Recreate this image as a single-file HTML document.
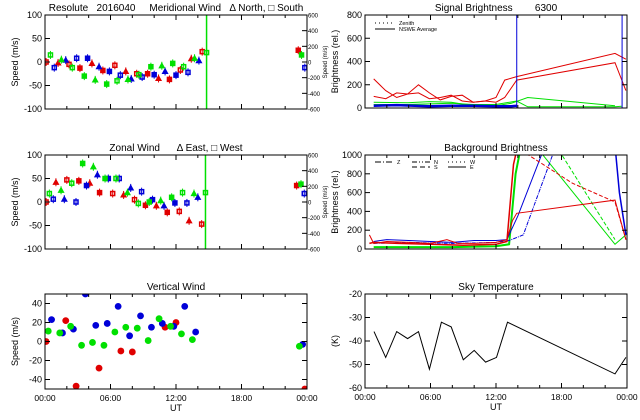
<!DOCTYPE html>
<html><head><meta charset="utf-8">
<style>
html,body{margin:0;padding:0;background:#fff;}
svg{display:block;font-family:"Liberation Sans",sans-serif;}
text{white-space:pre;}
</style></head>
<body>
<svg id="c" width="640" height="420" viewBox="0 0 640 420" xmlns="http://www.w3.org/2000/svg"></svg>
<script>
// ---- data (hours UT, values) ----
const merRedH=[0.1,1.2,2.2,3.2,4.3,5.3,6.4,7.4,8.4,9.4,10.4,11.4,12.4,13.4,14.4,23.2];
const merRedV=[0,-2,-5,-13,-3,-18,-7,-20,-25,-25,-35,-37,-17,7,22,25];
const merBlueH=[0.85,1.9,2.9,3.9,4.95,5.9,6.9,7.9,8.9,10.0,11.0,12.0,13.1,14.1,23.8];
const merBlueV=[-12,4,8,8,-10,-20,-28,-36,-32,-27,-20,-28,-22,3,-12];
const merGreenH=[0.5,1.5,2.5,3.6,4.6,5.65,6.6,7.6,8.6,9.7,10.7,11.7,12.7,13.7,14.8,23.5];
const merGreenV=[15,5,-12,-30,-38,-47,-40,-37,-27,-10,-8,-3,-10,8,20,15];
const zonRedH=[0.1,1.0,2.0,3.1,4.1,5.0,6.2,7.2,8.2,9.2,10.2,11.2,12.3,13.2,14.35,23.05];
const zonRedV=[0,42,47,45,40,20,18,15,5,-7,-8,-22,-20,-40,-47,35];
const zonBlueH=[0.76,1.77,2.84,3.8,4.8,5.8,6.8,7.85,8.85,9.85,10.9,11.9,13.0,14.0,23.75];
const zonBlueV=[6,6,0,35,58,50,50,30,22,5,-8,-2,-2,10,18];
const zonGreenH=[0.4,1.47,2.45,3.45,4.43,5.5,6.5,7.55,8.55,9.55,10.6,11.6,12.6,13.65,14.7,23.45];
const zonGreenV=[18,25,40,82,75,50,50,20,-3,0,3,10,20,18,20,38];
const verRedH=[0.1,1.9,2.85,4.95,6.95,8.0,11.0,12.0,23.8];
const verRedV=[0,22,-47,-28,-10,-11,15,20,-50];
const verBlueH=[0.6,1.6,2.6,3.7,4.65,5.7,6.7,7.75,8.75,9.75,10.75,11.8,12.8,13.8,23.6];
const verBlueV=[23,9,13,50,17,19,37,6,27,15,19,16,37,10,-3];
const verGreenH=[0.3,1.35,2.35,3.35,4.35,5.4,6.4,7.4,8.45,9.45,10.45,11.5,12.5,13.5,23.3];
const verGreenV=[11,9,16,-4,-1,-4,10,15,14,1,24,16,8,2,-5];
const skyH=[0.82,1.9,2.9,3.9,4.9,5.9,7.0,7.9,9.0,10.0,11.05,12.05,13.05,22.9,23.9];
const skyV=[-36,-47,-36,-39,-36,-52,-32,-34,-48,-44,-49,-47,-32,-54,-47];
const sigRed1H=[0.8,1.9,2.9,3.9,4.9,5.9,6.9,7.9,8.9,9.9,11,12,12.8,13.9,22.9,23.9];
const sigRed1V=[250,150,90,120,130,80,90,110,60,50,60,90,240,270,470,420];
const sigRed2H=[0.8,1.9,2.9,3.9,4.9,5.9,6.9,7.9,8.9,9.9,11,12,12.8,13.9,22.9,23.9];
const sigRed2V=[100,80,130,120,200,130,70,100,110,50,60,50,90,240,390,150];
const sigGreen1H=[0.8,3.9,5.9,7.9,9.9,12,13.4,14.9,22.9];
const sigGreen1V=[50,45,55,50,20,20,40,90,20];
const sigGreen2H=[0.8,3.9,7.9,9.9,12,13.9,14.9,22.9,23.5];
const sigGreen2V=[30,30,40,30,30,60,10,10,15];
const sigBlueH=[0.8,2.9,5.9,7.9,9.9,12,13.4,13.9];
const sigBlueV=[20,25,15,20,20,15,15,20];
const sigMarkH=[13.9,23.55];
const bgRed1H=[0.4,0.8,2,4,6,7.5,8.5,10,12,13,13.5,13.9,22.9,23.9];
const bgRed1V=[150,60,80,70,60,100,60,60,70,100,300,380,520,100];
const bgRed2H=[0.4,0.8,3,6,9,12,13,13.6,14];
const bgRed2V=[60,70,60,50,40,50,80,900,1100];
const bgRed3H=[14.3,19,22.9,23.9];
const bgRed3V=[1050,700,500,100];
const bgBlue1H=[0.8,2,4,6,8,10,12,13,14,16.5];
const bgBlue1V=[80,100,90,80,70,90,90,100,350,1100];
const bgBlue2H=[0.8,4,8,12,13.2,14.5,17.5];
const bgBlue2V=[60,70,60,70,90,150,1100];
const bgBlue3H=[22.9,23.3,23.9];
const bgBlue3V=[1100,600,150];
const bgGreen1H=[0.8,4,8,12,13.2,13.8,14.3];
const bgGreen1V=[20,20,20,30,50,800,1100];
const bgGreen2H=[15.6,22.9,23.9];
const bgGreen2V=[1100,50,150];
const bgGreen3H=[17.5,22.9];
const bgGreen3V=[1100,100];
const timeTicks=[0,6,12,18,24];
const timeLabels=["00:00","06:00","12:00","18:00","00:00"];

const NS="http://www.w3.org/2000/svg";
const svg=document.getElementById('c');
const RED="#e00000",GREEN="#00e000",BLUE="#0000d8";
function mk(tag,attrs,name,parent){const e=document.createElementNS(NS,tag);for(const k in attrs)e.setAttribute(k,attrs[k]);


(parent||svg).appendChild(e);return e;}
function txt(x,y,s,size,name,anchor,rot){const t=mk('text',{x:x,y:y,'font-size':size,'text-anchor':anchor||'middle',fill:'#000'},name);if(rot)t.setAttribute('transform','rotate(-90 '+x+' '+y+')');t.textContent=s;return t;}

function panel(P){
  const X=h=>P.x0+h/24*(P.x1-P.x0);
  const Y=v=>P.y1-(v-P.ymin)/(P.ymax-P.ymin)*(P.y1-P.y0);
  P.X=X;P.Y=Y;
  const cid='clip'+P.id;
  const cp=mk('clipPath',{id:cid},'clip-'+P.id);
  mk('rect',{x:P.x0,y:P.y0,width:P.x1-P.x0,height:P.y1-P.y0},'clip-rect',cp);
  P.g=mk('g',{'clip-path':'url(#'+cid+')'},P.id+'-plot-area');
  mk('rect',{x:P.x0,y:P.y0,width:P.x1-P.x0,height:P.y1-P.y0,fill:'none',stroke:'#000','stroke-width':1},P.id+'-frame');
  for(let h=0;h<=24;h+=2){const big=h%6==0;const len=big?5:3;
    mk('line',{x1:X(h),x2:X(h),y1:P.y1,y2:P.y1-len,stroke:'#000'},'x-tick');
    mk('line',{x1:X(h),x2:X(h),y1:P.y0,y2:P.y0+len,stroke:'#000'},'x-tick');}
  P.yt.forEach(v=>{mk('line',{x1:P.x0,x2:P.x0+5,y1:Y(v),y2:Y(v),stroke:'#000'},'y-tick');
    if(!P.right) mk('line',{x1:P.x1,x2:P.x1-5,y1:Y(v),y2:Y(v),stroke:'#000'},'y-tick');
    txt(P.x0-3,Y(v)+3,String(v),9,P.id+'-y-tick-label','end');});
  txt((P.x0+P.x1)/2,P.y0-4,P.title,10,P.id+'-title');
  txt(P.x0-27,(P.y0+P.y1)/2,P.ylab,9,P.id+'-y-axis-title','middle',true);
  if(P.xlab){timeTicks.forEach((h,i)=>txt(X(h),P.y1+12,timeLabels[i],8.5,'x-tick-label'));
    txt((P.x0+P.x1)/2,P.y1+22,'UT',9,'x-axis-title');}
  if(P.right){const r=P.right;r.forEach(v=>{const yy=Y(v/6);
    mk('line',{x1:P.x1,x2:P.x1-5,y1:yy,y2:yy,stroke:'#000'},'right-y-tick');
    txt(P.x1+1,yy+2.5,String(v),6,'right-y-tick-label','start');});
    txt(P.x1+20,(P.y0+P.y1)/2,'Speed (m/s)',6,'right-y-axis-title','middle',true);}
  return P;
}
function pts(P,H,V,col,shape,name){H.forEach((h,i)=>{const x=P.X(h),y=P.Y(V[i]);
  if(shape=='c'){mk('circle',{cx:x,cy:y,r:3.4,fill:col},name,P.g);return;}
  mk('line',{x1:x,x2:x,y1:y-4,y2:y+4,stroke:col,'stroke-width':1},name+'-error',P.g);
  if(i%3==1) mk('path',{d:`M${x-2.5} ${y+2}L${x} ${y-2.5}L${x+2.5} ${y+2}Z`,fill:col,stroke:col,'stroke-width':1.2},name,P.g);
  else mk('rect',{x:x-2,y:y-2,width:4,height:4,fill:(i%2?col:'none'),stroke:col,'stroke-width':1.5},name,P.g);});}
function line(P,H,V,col,name,dash,w){const d=H.map((h,i)=>(i?'L':'M')+P.X(h).toFixed(1)+' '+P.Y(V[i]).toFixed(1)).join('');
  const a={d:d,fill:'none',stroke:col,'stroke-width':w||1};if(dash)a['stroke-dasharray']=dash;mk('path',a,name,P.g);}

// Meridional
const M=panel({id:'meridional',x0:45,x1:307,y0:15,y1:109,ymin:-100,ymax:100,yt:[-100,-50,0,50,100],
  title:'Resolute   2016040     Meridional Wind   \u0394 North, \u25A1 South',ylab:'Speed (m/s)',right:[600,400,200,0,-200,-400,-600]});
mk('line',{x1:M.X(14.8),x2:M.X(14.8),y1:15,y2:109,stroke:GREEN,'stroke-width':1.5},'meridional-green-error-bar',M.g);
pts(M,merRedH,merRedV,RED,'s','meridional-red-point');
pts(M,merBlueH,merBlueV,BLUE,'s','meridional-blue-point');
pts(M,merGreenH,merGreenV,GREEN,'s','meridional-green-point');

// Zonal
const Z=panel({id:'zonal',x0:45,x1:307,y0:155,y1:249,ymin:-100,ymax:100,yt:[-100,-50,0,50,100],
  title:'Zonal Wind      \u0394 East, \u25A1 West',ylab:'Speed (m/s)',right:[600,400,200,0,-200,-400,-600]});
mk('line',{x1:Z.X(14.7),x2:Z.X(14.7),y1:Z.Y(-100),y2:Z.Y(100),stroke:GREEN,'stroke-width':1.5},'zonal-green-error-bar',Z.g);
pts(Z,zonRedH,zonRedV,RED,'s','zonal-red-point');
pts(Z,zonBlueH,zonBlueV,BLUE,'s','zonal-blue-point');
pts(Z,zonGreenH,zonGreenV,GREEN,'s','zonal-green-point');

// Vertical
const V=panel({id:'vertical',x0:45,x1:307,y0:294,y1:389,ymin:-50,ymax:50,yt:[-40,-20,0,20,40],
  title:'Vertical Wind',ylab:'Speed (m/s)',xlab:true});
pts(V,verRedH,verRedV,RED,'c','vertical-red-point');
pts(V,verBlueH,verBlueV,BLUE,'c','vertical-blue-point');
pts(V,verGreenH,verGreenV,GREEN,'c','vertical-green-point');

// Signal
const S=panel({id:'signal',x0:365,x1:627,y0:15,y1:108,ymin:0,ymax:800,yt:[0,200,400,600,800],
  title:'Signal Brightness        6300',ylab:'Brightness (rel.)'});
line(S,sigGreen1H,sigGreen1V,GREEN,'signal-green-line-1');
line(S,sigGreen2H,sigGreen2V,GREEN,'signal-green-line-2');
line(S,sigBlueH,sigBlueV,BLUE,'signal-blue-line',null,2.5);
line(S,sigRed1H,sigRed1V,RED,'signal-red-line-1');
line(S,sigRed2H,sigRed2V,RED,'signal-red-line-2');
sigMarkH.forEach(h=>mk('line',{x1:S.X(h),x2:S.X(h),y1:15,y2:108,stroke:BLUE},'signal-marker-line',S.g));
mk('line',{x1:375,x2:395,y1:23,y2:23,stroke:'#000','stroke-dasharray':'1 3'},'legend-zenith-line');
txt(399,25,'Zenith',5.5,'legend-zenith-label','start');
mk('line',{x1:375,x2:395,y1:29,y2:29,stroke:'#000'},'legend-nswe-line');
txt(399,31,'NSWE Average',5.5,'legend-nswe-label','start');

// Background
const B=panel({id:'background',x0:365,x1:627,y0:155,y1:249,ymin:0,ymax:1000,yt:[0,200,400,600,800,1000],
  title:'Background Brightness',ylab:'Brightness (rel.)'});
line(B,bgGreen1H,bgGreen1V,GREEN,'background-green-line-1',null,2);
line(B,bgGreen2H,bgGreen2V,GREEN,'background-green-line-2');
line(B,bgGreen3H,bgGreen3V,GREEN,'background-green-line-3','4 2');
line(B,bgBlue1H,bgBlue1V,BLUE,'background-blue-line-1');
line(B,bgBlue2H,bgBlue2V,BLUE,'background-blue-line-2','4 1 1 1');
line(B,bgBlue3H,bgBlue3V,BLUE,'background-blue-line-3',null,1.5);
line(B,bgRed1H,bgRed1V,RED,'background-red-line-1');
line(B,bgRed2H,bgRed2V,RED,'background-red-line-2',null,1.5);
line(B,bgRed3H,bgRed3V,RED,'background-red-line-3','4 2');
[['Z',375,162,'6 2 1 2'],['N',412,162,'5 2 1 2 1 2'],['S',412,167,'5 3'],['W',448,162,'1 3'],['E',448,167,null]].forEach(l=>{
  const a={x1:l[1],x2:l[1]+18,y1:l[2],y2:l[2],stroke:'#000'};if(l[3])a['stroke-dasharray']=l[3];
  mk('line',a,'legend-'+l[0]+'-line');txt(l[1]+22,l[2]+2,l[0],5.5,'legend-'+l[0]+'-label','start');});

// Sky
const K=panel({id:'sky',x0:365,x1:627,y0:294,y1:388,ymin:-60,ymax:-20,yt:[-60,-50,-40,-30,-20],
  title:'Sky Temperature',ylab:'(K)',xlab:true});
line(K,skyH,skyV,'#000','sky-temperature-line');
</script>
</body></html>
